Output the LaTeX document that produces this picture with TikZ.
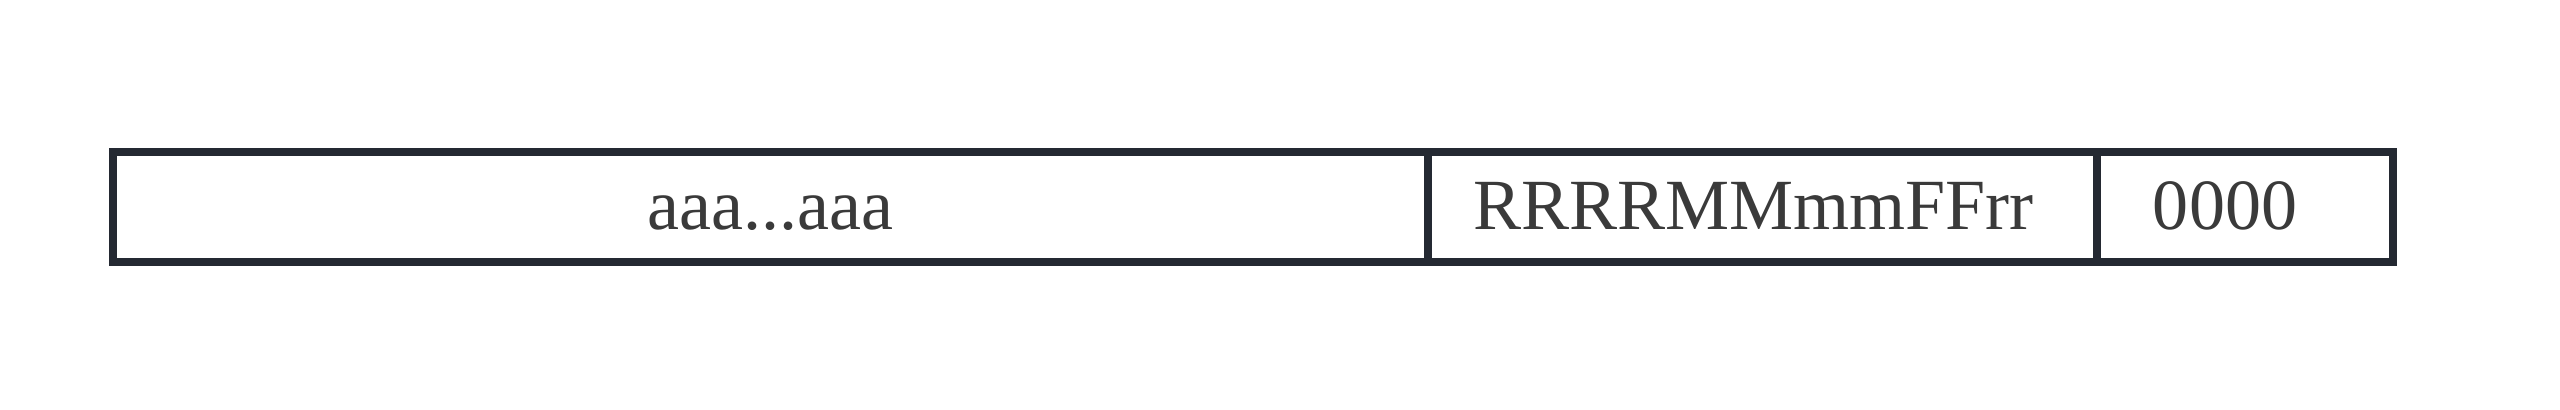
\documentclass[tikz,border=0pt]{standalone}
\usepackage{fontspec}
\setmainfont{Liberation Serif}
\usepackage{xcolor}
\usetikzlibrary{positioning}
\definecolor{fieldline}{HTML}{242932}
\definecolor{fieldtext}{HTML}{3A3A3A}

\begin{document}
\begin{tikzpicture}[
  font=\fontsize{20.5}{24}\selectfont,
  field/.style={draw=fieldline, line width=2.3pt, outer sep=0pt, inner sep=0pt,
    minimum height=1.1cm, text height=0.46cm, text depth=0pt,
    text=fieldtext, anchor=west}
]
  \useasboundingbox (0,0) rectangle (25.6,4.1);
  \node[field, minimum width=13.15cm] (payload) at (1.13,2.03) {aaa...aaa};
  \node[field, minimum width=6.69cm, right=0pt of payload] (flags)
    {RRRRMMmmFFrr\hspace*{0.18cm}};
  \node[field, minimum width=2.96cm, right=0pt of flags] (zeros)
    {0000\hspace*{0.4cm}};
\end{tikzpicture}
\end{document}
